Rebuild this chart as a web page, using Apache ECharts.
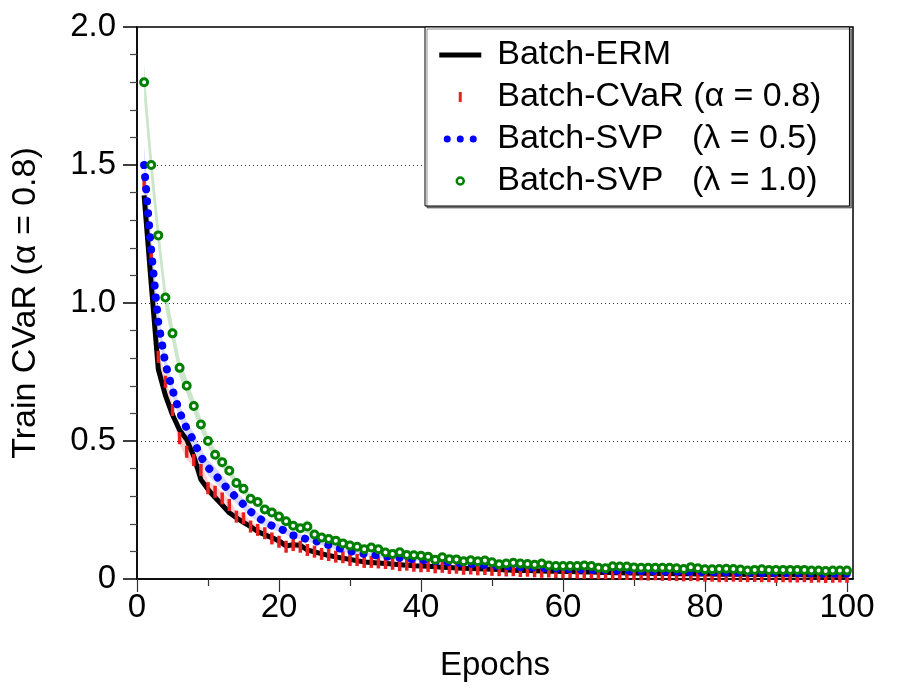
<!DOCTYPE html>
<html>
<head>
<meta charset="utf-8">
<script src="https://cdn.jsdelivr.net/npm/echarts@6/dist/echarts.min.js"></script>
<style>
  html, body { margin: 0; padding: 0; background: #fff; }
  #chart { width: 900px; height: 700px; }
</style>
</head>
<body>
<div id="chart"></div>
<script>
// epochs 1..100
const epochs = Array.from({ length: 100 }, (_, i) => i + 1)

const xTicks = [0, 20, 40, 60, 80, 100]
const xMinorTicks = [10, 30, 50, 70, 90]

// Batch-ERM (black line)
const erm = [
  1.39, 1.07, 0.76, 0.665, 0.595, 0.54, 0.505, 0.445, 0.36, 0.325,
  0.295, 0.268, 0.24, 0.222, 0.205, 0.19, 0.172, 0.16, 0.15, 0.138,
  0.12, 0.124, 0.122, 0.105, 0.098, 0.092, 0.085, 0.080, 0.075, 0.071,
  0.066, 0.062, 0.060, 0.058, 0.056, 0.054, 0.052, 0.050, 0.048, 0.047,
  0.046, 0.044, 0.043, 0.042, 0.040, 0.039, 0.038, 0.037, 0.036, 0.035,
  0.034, 0.033, 0.032, 0.031, 0.031, 0.030, 0.029, 0.028, 0.028, 0.027,
  0.027, 0.026, 0.025, 0.025, 0.024, 0.024, 0.023, 0.023, 0.022, 0.022,
  0.021, 0.021, 0.020, 0.020, 0.020, 0.019, 0.019, 0.019, 0.018, 0.018,
  0.018, 0.017, 0.017, 0.017, 0.017, 0.016, 0.016, 0.016, 0.016, 0.015,
  0.015, 0.015, 0.015, 0.015, 0.014, 0.014, 0.014, 0.014, 0.014, 0.014
]
const ermStd = [
  0.015, 0.015, 0.012, 0.010, 0.010, 0.010, 0.010, 0.010, 0.010, 0.009,
  0.009, 0.008, 0.008, 0.008, 0.007, 0.007, 0.007, 0.006, 0.006, 0.006,
  0.005, 0.005, 0.005, 0.005, 0.005, 0.005, 0.004, 0.004, 0.004, 0.004,
  0.004, 0.004, 0.004, 0.004, 0.004, 0.004, 0.004, 0.004, 0.004, 0.004,
  0.003, 0.003, 0.003, 0.003, 0.003, 0.003, 0.003, 0.003, 0.003, 0.003,
  0.003, 0.003, 0.003, 0.003, 0.003, 0.003, 0.003, 0.003, 0.003, 0.003,
  0.003, 0.003, 0.003, 0.003, 0.003, 0.003, 0.003, 0.003, 0.003, 0.003,
  0.002, 0.002, 0.002, 0.002, 0.002, 0.002, 0.002, 0.002, 0.002, 0.002,
  0.002, 0.002, 0.002, 0.002, 0.002, 0.002, 0.002, 0.002, 0.002, 0.002,
  0.002, 0.002, 0.002, 0.002, 0.002, 0.002, 0.002, 0.002, 0.002, 0.002
]

// Batch-CVaR (red ticks)
const cvar = [
  1.43, 1.16, 0.805, 0.715, 0.612, 0.51, 0.461, 0.431, 0.395, 0.329,
  0.316, 0.292, 0.268, 0.226, 0.22, 0.19, 0.178, 0.166, 0.147, 0.135,
  0.117, 0.123, 0.117, 0.105, 0.099, 0.091, 0.087, 0.081, 0.079, 0.069,
  0.069, 0.062, 0.062, 0.060, 0.058, 0.055, 0.050, 0.052, 0.048, 0.046,
  0.047, 0.042, 0.044, 0.040, 0.041, 0.037, 0.038, 0.035, 0.036, 0.033,
  0.032, 0.031, 0.032, 0.029, 0.030, 0.028, 0.026, 0.027, 0.025, 0.024,
  0.025, 0.023, 0.022, 0.023, 0.021, 0.021, 0.019, 0.020, 0.018, 0.018,
  0.017, 0.016, 0.017, 0.015, 0.015, 0.014, 0.013, 0.014, 0.013, 0.012,
  0.012, 0.010, 0.011, 0.012, 0.011, 0.010, 0.011, 0.010, 0.010, 0.008,
  0.010, 0.009, 0.009, 0.010, 0.008, 0.009, 0.007, 0.008, 0.009, 0.008
]
const cvarStd = [
  0.030, 0.030, 0.025, 0.020, 0.020, 0.024, 0.026, 0.027, 0.027, 0.026,
  0.024, 0.022, 0.020, 0.019, 0.018, 0.016, 0.015, 0.014, 0.013, 0.012,
  0.011, 0.011, 0.010, 0.009, 0.009, 0.008, 0.008, 0.007, 0.007, 0.007,
  0.006, 0.006, 0.006, 0.006, 0.006, 0.006, 0.005, 0.005, 0.005, 0.005,
  0.005, 0.005, 0.005, 0.005, 0.005, 0.004, 0.004, 0.004, 0.004, 0.004,
  0.004, 0.004, 0.004, 0.004, 0.004, 0.004, 0.004, 0.004, 0.004, 0.004,
  0.003, 0.003, 0.003, 0.003, 0.003, 0.003, 0.003, 0.003, 0.003, 0.003,
  0.003, 0.003, 0.003, 0.003, 0.003, 0.003, 0.003, 0.003, 0.003, 0.003,
  0.003, 0.003, 0.003, 0.003, 0.003, 0.003, 0.003, 0.003, 0.003, 0.003,
  0.003, 0.003, 0.003, 0.003, 0.003, 0.003, 0.003, 0.003, 0.003, 0.003
]

// Batch-SVP lambda = 0.5 (blue dotted)
const svp05 = [
  1.50, 1.19, 0.93, 0.78, 0.685, 0.605, 0.545, 0.50, 0.443, 0.404,
  0.378, 0.349, 0.319, 0.295, 0.270, 0.244, 0.224, 0.206, 0.193, 0.185,
  0.172, 0.158, 0.153, 0.143, 0.139, 0.130, 0.123, 0.114, 0.108, 0.101,
  0.096, 0.091, 0.088, 0.085, 0.082, 0.079, 0.077, 0.074, 0.072, 0.070,
  0.067, 0.064, 0.063, 0.060, 0.058, 0.056, 0.055, 0.052, 0.051, 0.049,
  0.047, 0.046, 0.045, 0.043, 0.042, 0.041, 0.040, 0.039, 0.038, 0.037,
  0.036, 0.035, 0.034, 0.033, 0.033, 0.032, 0.031, 0.031, 0.030, 0.030,
  0.029, 0.028, 0.028, 0.027, 0.027, 0.027, 0.026, 0.026, 0.025, 0.025,
  0.025, 0.024, 0.024, 0.024, 0.023, 0.023, 0.023, 0.022, 0.022, 0.022,
  0.022, 0.021, 0.021, 0.021, 0.021, 0.020, 0.020, 0.020, 0.020, 0.020
]
const svp05Std = [
  0.070, 0.050, 0.040, 0.030, 0.025, 0.025, 0.028, 0.030, 0.030, 0.028,
  0.028, 0.026, 0.024, 0.022, 0.020, 0.018, 0.016, 0.015, 0.014, 0.013,
  0.012, 0.011, 0.010, 0.010, 0.009, 0.009, 0.008, 0.008, 0.008, 0.007,
  0.007, 0.007, 0.007, 0.006, 0.006, 0.006, 0.006, 0.006, 0.006, 0.006,
  0.005, 0.005, 0.005, 0.005, 0.005, 0.005, 0.005, 0.005, 0.005, 0.005,
  0.004, 0.004, 0.004, 0.004, 0.004, 0.004, 0.004, 0.004, 0.004, 0.004,
  0.004, 0.004, 0.004, 0.004, 0.004, 0.003, 0.003, 0.003, 0.003, 0.003,
  0.003, 0.003, 0.003, 0.003, 0.003, 0.003, 0.003, 0.003, 0.003, 0.003,
  0.003, 0.003, 0.003, 0.003, 0.003, 0.003, 0.003, 0.003, 0.003, 0.003,
  0.003, 0.003, 0.003, 0.003, 0.003, 0.003, 0.003, 0.003, 0.003, 0.003
]

// Batch-SVP lambda = 1.0 (green open circles)
const svp10 = [
  1.80, 1.50, 1.245, 1.02, 0.89, 0.765, 0.70, 0.627, 0.56, 0.50,
  0.45, 0.423, 0.392, 0.348, 0.327, 0.291, 0.279, 0.252, 0.241, 0.226,
  0.209, 0.193, 0.184, 0.190, 0.161, 0.150, 0.145, 0.139, 0.129, 0.121,
  0.117, 0.108, 0.114, 0.108, 0.096, 0.091, 0.097, 0.087, 0.086, 0.084,
  0.081, 0.070, 0.079, 0.072, 0.071, 0.064, 0.068, 0.064, 0.067, 0.061,
  0.053, 0.056, 0.059, 0.056, 0.054, 0.052, 0.056, 0.049, 0.047, 0.047,
  0.047, 0.047, 0.049, 0.047, 0.041, 0.039, 0.046, 0.045, 0.045, 0.042,
  0.041, 0.041, 0.041, 0.041, 0.041, 0.039, 0.036, 0.043, 0.039, 0.035,
  0.035, 0.036, 0.037, 0.036, 0.034, 0.031, 0.033, 0.035, 0.033, 0.033,
  0.033, 0.033, 0.033, 0.033, 0.031, 0.031, 0.029, 0.031, 0.031, 0.031
]
const svp10Std = [
  0.065, 0.055, 0.048, 0.042, 0.036, 0.032, 0.029, 0.026, 0.024, 0.022,
  0.020, 0.019, 0.018, 0.016, 0.015, 0.014, 0.013, 0.012, 0.012, 0.011,
  0.011, 0.010, 0.013, 0.026, 0.010, 0.009, 0.009, 0.008, 0.008, 0.008,
  0.007, 0.007, 0.007, 0.007, 0.007, 0.007, 0.007, 0.007, 0.007, 0.007,
  0.006, 0.006, 0.006, 0.006, 0.006, 0.006, 0.006, 0.006, 0.006, 0.006,
  0.005, 0.005, 0.005, 0.005, 0.005, 0.005, 0.005, 0.005, 0.005, 0.005,
  0.005, 0.005, 0.005, 0.005, 0.005, 0.005, 0.005, 0.005, 0.005, 0.005,
  0.004, 0.004, 0.004, 0.004, 0.004, 0.004, 0.004, 0.004, 0.004, 0.004,
  0.004, 0.004, 0.004, 0.004, 0.004, 0.004, 0.004, 0.004, 0.004, 0.004,
  0.004, 0.004, 0.004, 0.004, 0.004, 0.004, 0.004, 0.004, 0.004, 0.004
]

const names = [
  'Batch-ERM',
  'Batch-CVaR (α = 0.8)',
  'Batch-SVP   (λ = 0.5)',
  'Batch-SVP   (λ = 1.0)'
]

const FONT = "'Liberation Sans', Arial, Helvetica, sans-serif"
const RED = '#e82020'
const BLUE = '#0000ff'
const GREEN = '#008000'

function pairs(values) {
  return epochs.map((e, i) => [e, values[i]])
}

// shaded mean +- std band, drawn once as a polygon through the axes
function band(mean, std, color, z) {
  return {
    type: 'custom',
    z: z,
    silent: true,
    clip: true,
    data: epochs.map((e, i) => [e, mean[i] - std[i], mean[i] + std[i]]),
    encode: { x: 0, y: [1, 2] },
    renderItem(params, api) {
      if (params.dataIndex !== 0) return null
      const upper = []
      const lower = []
      for (let i = 0; i < epochs.length; i++) {
        upper.push(api.coord([epochs[i], mean[i] + std[i]]))
        lower.unshift(api.coord([epochs[i], mean[i] - std[i]]))
      }
      return {
        type: 'polygon',
        shape: { points: upper.concat(lower) },
        style: { fill: color }
      }
    }
  }
}

const chart = echarts.init(document.getElementById('chart'), null, { renderer: 'canvas' })

chart.setOption({
  animation: false,
  backgroundColor: '#fff',
  textStyle: { fontFamily: FONT, color: '#000' },
  grid: {
    left: 137, top: 27, right: 47, bottom: 121,
    show: true, borderColor: '#000', borderWidth: 1.5, backgroundColor: 'transparent'
  },
  legend: {
    orient: 'vertical',
    left: 425,
    top: 27,
    padding: [11, 28, 8, 13],
    itemGap: 8,
    itemWidth: 42,
    itemHeight: 10,
    selectedMode: false,
    backgroundColor: '#fff',
    borderColor: '#000',
    borderWidth: 1,
    borderRadius: 0,
    shadowColor: 'rgba(0,0,0,0.45)',
    shadowOffsetX: 2,
    shadowOffsetY: 2,
    shadowBlur: 0,
    textStyle: { fontFamily: FONT, fontSize: 34, color: '#000', lineHeight: 34, padding: [0, 0, 0, 11] },
    data: [
      { name: names[0], icon: 'path://M0,0L42,0L42,5L0,5Z', itemStyle: { color: '#000', borderWidth: 0 } },
      { name: names[1], icon: 'path://M0,0L0,0M42,10L42,10M19.5,0L22.5,0L22.5,10L19.5,10Z', itemStyle: { color: RED, borderWidth: 0 } },
      {
        name: names[2],
        icon: 'path://M0,3.5L0,3.5M42,3.5L42,3.5M4.5,3.5a3.5,3.5 0 1,0 7,0a3.5,3.5 0 1,0 -7,0M17.5,3.5a3.5,3.5 0 1,0 7,0a3.5,3.5 0 1,0 -7,0M30.5,3.5a3.5,3.5 0 1,0 7,0a3.5,3.5 0 1,0 -7,0',
        itemStyle: { color: BLUE, borderWidth: 0 }
      },
      {
        name: names[3],
        icon: 'path://M0,3.5L0,3.5M42,3.5L42,3.5M17.5,3.5a3.5,3.5 0 1,0 7,0a3.5,3.5 0 1,0 -7,0',
        itemStyle: { color: '#fff', borderColor: GREEN, borderWidth: 2.5 }
      }
    ]
  },
  xAxis: [
    {
      type: 'value',
      min: 0,
      max: 100.85,
      interval: 20,
      name: 'Epochs',
      nameLocation: 'middle',
      nameGap: 70,
      nameTextStyle: { fontFamily: FONT, fontSize: 33, color: '#000' },
      axisLine: { onZero: false, lineStyle: { color: '#000', width: 1.5 } },
      axisTick: { inside: false, length: 13, customValues: xTicks, lineStyle: { color: '#333', width: 1.2 } },
      axisLabel: {
        customValues: xTicks,
        margin: 12,
        fontFamily: FONT, fontSize: 33, color: '#000',
        formatter: v => (v % 20 === 0 ? String(v) : '')
      },
      splitLine: { show: false }
    },
    {
      type: 'value',
      position: 'bottom',
      min: 0,
      max: 100.85,
      interval: 10,
      axisLine: { show: false },
      axisTick: { inside: false, length: 7, customValues: xMinorTicks, lineStyle: { color: '#333', width: 1.2 } },
      axisLabel: { show: false },
      splitLine: { show: false }
    }
  ],
  yAxis: {
    type: 'value',
    min: 0,
    max: 2,
    interval: 0.5,
    name: 'Train CVaR (α = 0.8)',
    nameLocation: 'middle',
    nameGap: 94,
    nameTextStyle: { fontFamily: FONT, fontSize: 34, color: '#000' },
    axisLine: { show: true, onZero: false, lineStyle: { color: '#000', width: 1.5 } },
    axisTick: { show: true, inside: false, length: 14, lineStyle: { color: '#000', width: 1.5 } },
    minorTick: { show: true, splitNumber: 5, length: 7, lineStyle: { color: '#444', width: 1.2 } },
    axisLabel: {
      margin: 21,
      fontFamily: FONT, fontSize: 33, color: '#000',
      formatter: v => (v === 0 ? '0' : v.toFixed(1))
    },
    splitLine: { show: true, lineStyle: { color: '#333', width: 1, type: [1, 3] } }
  },
  series: [
    band(erm, ermStd, 'rgba(0,0,0,0.12)', 1),
    band(cvar, cvarStd, 'rgba(255,0,0,0.18)', 1),
    band(svp05, svp05Std, 'rgba(0,0,255,0.15)', 1),
    band(svp10, svp10Std, 'rgba(0,128,0,0.2)', 1),
    {
      name: names[0],
      type: 'line',
      z: 2,
      data: pairs(erm),
      showSymbol: false,
      symbol: 'none',
      itemStyle: { color: '#000' },
      lineStyle: { color: '#000', width: 5, join: 'round' }
    },
    {
      name: names[1],
      type: 'scatter',
      z: 3,
      data: pairs(cvar),
      symbol: 'rect',
      symbolSize: [3.5, 12],
      itemStyle: { color: RED, opacity: 1 }
    },
    {
      name: names[2],
      type: 'line',
      z: 4,
      data: pairs(svp05),
      showSymbol: false,
      symbol: 'none',
      itemStyle: { color: BLUE },
      lineStyle: { color: BLUE, width: 8, type: [0.1, 12], cap: 'round', join: 'round' }
    },
    {
      name: names[3],
      type: 'scatter',
      z: 5,
      data: pairs(svp10),
      symbol: 'circle',
      symbolSize: 7,
      itemStyle: { color: '#fff', borderColor: GREEN, borderWidth: 3, opacity: 1 }
    }
  ]
})
</script>
</body>
</html>
